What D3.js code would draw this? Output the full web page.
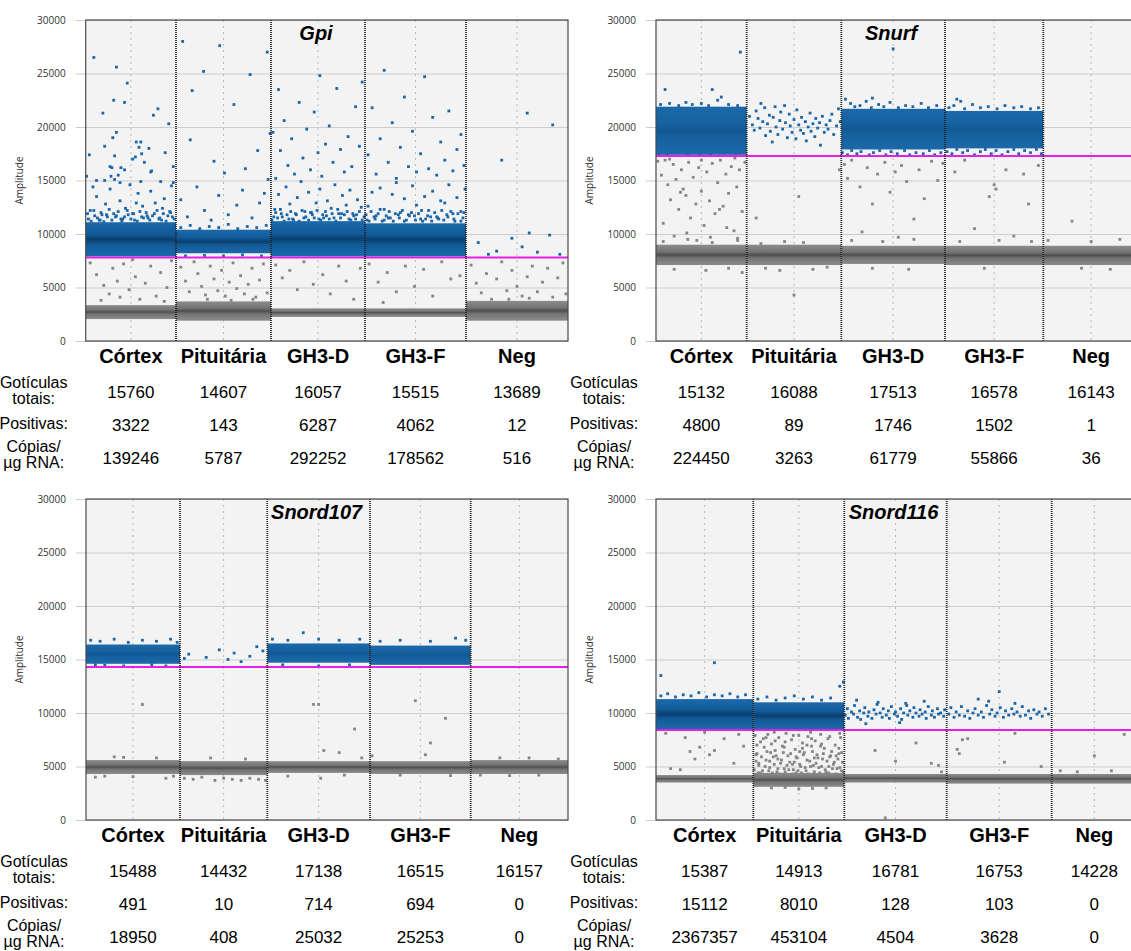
<!DOCTYPE html>
<html>
<head>
<meta charset="utf-8">
<title>ddPCR amplitude plots</title>
<script src="https://cdn.jsdelivr.net/npm/d3@7"></script>
<style>
  body { margin: 0; background: #fff; }
  text { font-family: "Liberation Sans", Arial, sans-serif; }
</style>
</head>
<body>
<script>
// ---- data ----
var genes = ["Gpi", "Snurf", "Snord107", "Snord116"];
var wells = ["Córtex", "Pituitária", "GH3-D", "GH3-F", "Neg"];
var yTicks = [0, 5000, 10000, 15000, 20000, 25000, 30000];
var thresholds = [7800, 17300, 14300, 8400];

var totais = [
  [15760, 14607, 16057, 15515, 13689],
  [15132, 16088, 17513, 16578, 16143],
  [15488, 14432, 17138, 16515, 16157],
  [15387, 14913, 16781, 16753, 14228]
];
var positivas = [
  [3322, 143, 6287, 4062, 12],
  [4800, 89, 1746, 1502, 1],
  [491, 10, 714, 694, 0],
  [15112, 8010, 128, 103, 0]
];
var copias = [
  [139246, 5787, 292252, 178562, 516],
  [224450, 3263, 61779, 55866, 36],
  [18950, 408, 25032, 25253, 0],
  [2367357, 453104, 4504, 3628, 0]
];

// dense droplet clusters per well: [low, high] amplitude
var posBands = [
  [[7900, 11100], [8200, 10400], [7900, 11200], [7900, 11000], null],
  [[17400, 21900], null, [17900, 21700], [18000, 21500], null],
  [[14600, 16400], null, [14700, 16500], [14500, 16300], null],
  [[8500, 11300], [8500, 11000], null, null, null]
];
var negBands = [
  [[2050, 3350], [1900, 3700], [2250, 3050], [2250, 3050], [1900, 3750]],
  [[7100, 9000], [7100, 9000], [7200, 8900], [7100, 8900], [7100, 8900]],
  [[4300, 5600], [4200, 5500], [4400, 5500], [4300, 5500], [4300, 5600]],
  [[3500, 4200], [3100, 4400], [3500, 4300], [3400, 4300], [3400, 4300]]
];

// scattered droplets per well: [position within well 0..1, amplitude]
var gpiRain = [
  [[.09,26500],[.34,25600],[.46,24100],[.31,22500],[.43,22300],[.19,21300],[.8,21700],[.75,21100],[.92,20300],[.34,19500],[.3,19000],[.21,18200],[.04,17400],[.32,17300],[.56,18600],[.61,18600],[.59,18100],[.7,18000],[.62,17500],[.55,17200],[.52,17000],[.65,16700],[.73,15900],[.72,15800],[.88,17600],[.27,16300],[.29,16200],[.39,16200],[.43,16000],[.01,15400],[.12,15000],[.21,15000],[.28,15400],[.32,15100],[.36,15500],[.38,14800],[.83,14900],[.97,16300],[.95,14500],
   [.05,12200],[.12,13500],[.18,11800],[.22,12800],[.27,14200],[.33,11600],[.38,13100],[.44,12400],[.49,14600],[.53,11900],[.58,13800],[.63,12600],[.68,11700],[.72,14000],[.77,12900],[.82,11500],[.87,13300],[.93,12100],[.97,14800],[.08,14400],[.41,11400],[.61,14900],[.85,12400],[.15,11300],[.56,12900],
   [.03,11400],[.1,11700],[.16,11300],[.24,11600],[.31,11900],[.39,11400],[.47,11800],[.54,11300],[.62,11600],[.69,11500],[.76,11900],[.84,11300],[.91,11700],[.98,11400],
   [.02,11900],[.06,11200],[.09,12200],[.13,11500],[.17,12000],[.2,11150],[.23,11800],[.26,12300],[.29,11300],[.34,11700],[.36,12100],[.4,11200],[.43,11600],[.46,12200],[.5,11400],[.52,11900],[.57,11200],[.6,12100],[.64,11500],[.67,12000],[.71,11300],[.74,11700],[.79,12200],[.81,11400],[.86,11900],[.89,11200],[.94,12000],[.96,11600],
   [.05,7300],[.12,6200],[.2,5200],[.26,4400],[.3,6800],[.35,5600],[.42,7200],[.48,4800],[.55,6000],[.6,3900],[.66,5400],[.72,7000],[.78,4200],[.83,6400],[.9,5000],[.95,7500],[.17,3800],[.52,7600],[.87,3700],[.38,4100]],
  [[.07,28000],[.17,23400],[.15,18800],[.29,25200],[.46,27600],[.51,15700],[.61,22100],[.73,16100],[.78,24900],[.96,27000],[.97,15100],[.99,19400],[.05,13200],[.12,11600],[.22,14400],[.3,12200],[.37,11300],[.45,13600],[.55,11800],[.64,12700],[.7,14100],[.8,11500],[.88,12900],[.93,13800],[.4,16800],[.86,17800],
   [.05,10600],[.15,10800],[.25,10500],[.35,10700],[.45,10600],[.55,10900],[.65,10500],[.75,10700],[.85,10600],[.95,10800],[.1,7950],[.3,8000],[.5,7950],[.7,8050],[.9,7950],
   [.05,6900],[.1,5600],[.14,4600],[.19,7400],[.23,6300],[.27,5100],[.31,4300],[.36,7000],[.4,5800],[.44,4700],[.48,6600],[.52,4200],[.56,5500],[.6,7300],[.64,4900],[.68,6100],[.72,4400],[.76,5300],[.8,6800],[.84,4100],[.88,5700],[.92,7200],[.96,4500],[.33,3900],[.58,3800],[.81,3900]],
  [[.02,19500],[.05,15200],[.1,17800],[.14,20600],[.18,16400],[.22,18900],[.25,15600],[.3,22300],[.34,17100],[.38,19800],[.42,16000],[.46,21400],[.5,17600],[.54,15400],[.58,18400],[.62,20100],[.66,16700],[.7,23600],[.74,17900],[.78,15800],[.82,19100],[.86,16300],[.9,21900],[.94,18200],[.97,24200],[.08,23500],[.52,24800],
   [.04,12300],[.08,13700],[.12,11600],[.16,14400],[.2,12800],[.24,11300],[.28,13400],[.32,14900],[.36,12100],[.4,13900],[.44,11800],[.48,12900],[.52,14200],[.56,11500],[.6,13100],[.64,12400],[.68,14600],[.72,11900],[.76,13600],[.8,12700],[.84,14100],[.88,11700],[.92,13200],[.96,12500],
   [.03,11600],[.11,11900],[.19,11400],[.27,11800],[.35,11500],[.43,12000],[.51,11400],[.59,11700],[.67,11500],[.75,11900],[.83,11400],[.91,11800],[.99,11600],
   [.01,11300],[.05,12000],[.07,11500],[.1,12300],[.14,11200],[.17,11800],[.21,12100],[.23,11400],[.26,11900],[.3,11200],[.33,12200],[.37,11600],[.4,11300],[.42,12000],[.46,11500],[.49,12200],[.53,11300],[.55,11800],[.58,12100],[.62,11400],[.65,11900],[.69,11200],[.71,12300],[.74,11500],[.78,11800],[.81,12100],[.85,11300],[.87,11900],[.9,11400],[.94,12100],[.97,11300],
   [.05,7100],[.12,5900],[.2,6600],[.28,4800],[.35,7400],[.45,5300],[.55,6200],[.63,4400],[.72,7000],[.8,5600],[.88,3900],[.95,6800]],
  [[.03,17400],[.07,21800],[.11,15600],[.15,18900],[.19,25300],[.23,16700],[.27,20400],[.31,15200],[.35,18100],[.39,22800],[.43,16300],[.47,19600],[.51,15800],[.55,17500],[.59,24700],[.63,16100],[.67,20900],[.71,15500],[.75,18600],[.79,16900],[.83,21500],[.87,15900],[.91,17900],[.95,19300],[.98,16400],
   [.03,12600],[.07,13900],[.11,11700],[.15,14300],[.19,12300],[.23,11500],[.27,13700],[.31,14800],[.35,12000],[.39,13300],[.43,11800],[.47,14500],[.51,12700],[.55,11400],[.59,13500],[.63,12200],[.67,14000],[.71,11600],[.75,13100],[.79,12900],[.83,14600],[.87,11900],[.91,13400],[.95,12100],[.99,14200],
   [.02,11300],[.09,11600],[.17,11200],[.25,11500],[.33,11800],[.41,11300],[.49,11700],[.57,11200],[.65,11600],[.73,11400],[.81,11800],[.89,11200],[.97,11500],
   [.01,11800],[.04,11200],[.06,12100],[.1,11400],[.13,11900],[.15,12300],[.19,11300],[.21,11700],[.24,12100],[.28,11200],[.3,11900],[.34,11500],[.37,12200],[.39,11200],[.44,11700],[.46,12000],[.5,11300],[.53,11900],[.56,12200],[.6,11400],[.62,11700],[.66,11200],[.69,12000],[.72,11500],[.76,12200],[.78,11300],[.82,11600],[.85,12100],[.88,11400],[.92,11900],[.95,11200],[.98,12000],
   [.04,7200],[.13,5500],[.22,6400],[.31,4600],[.4,7000],[.49,5100],[.58,6700],[.67,4200],[.76,7400],[.85,5800],[.94,6100],[.18,3600]],
  [[.12,9200],[.3,8400],[.22,8100],[.45,9600],[.55,8800],[.62,10100],[.7,8300],[.82,9900],[.92,8100],[.35,16900],[.6,21300],[.85,20200],
   [.05,7100],[.1,5400],[.15,4500],[.2,6300],[.25,3900],[.3,5800],[.35,7400],[.4,4700],[.45,6600],[.5,5100],[.55,4200],[.6,6000],[.65,7000],[.7,4600],[.75,5500],[.8,6800],[.85,4100],[.9,5900],[.95,7300],[.98,4400],[.42,3900],[.62,4000]]
];

var snurfRain = [
  [[.1,23500],[.62,23500],[.72,22800],[.33,22300],[.93,27000],[.68,22500],
   [.05,22100],[.15,22200],[.25,22000],[.4,22100],[.5,22200],[.58,22000],[.8,22100],[.9,22000],
   [.03,17500],[.12,17400],[.22,17600],[.35,17400],[.48,17500],[.6,17400],[.75,17600],[.88,17400],
   [.02,16800],[.06,15500],[.1,16900],[.13,14600],[.16,13200],[.19,16500],[.22,15100],[.25,12300],[.28,16000],[.3,14200],[.33,13600],[.36,16700],[.38,11500],[.41,15300],[.44,12800],[.47,16200],[.5,14000],[.53,10800],[.56,15800],[.59,13100],[.62,16600],[.65,11900],[.68,14800],[.71,16900],[.74,12600],[.77,15600],[.8,13800],[.83,16300],[.86,10300],[.89,14400],[.92,16000],[.95,12100],[.98,16700],[.08,11000],[.2,9800],[.34,10100],[.45,9400],[.6,9700],[.78,10600],[.9,9600],[.15,17000],[.5,16900],[.87,17100],[.27,13900],[.7,12300],
   [.08,9300],[.35,9500],[.62,9200],[.9,9400],[.2,6700],[.55,6600],[.8,6800],[.95,6400]],
  [[.03,21000],[.06,20200],[.08,19700],[.1,21500],[.12,20800],[.14,19900],[.15,22200],[.17,20500],[.19,21800],[.2,19200],[.22,20300],[.24,21100],[.25,19600],[.27,18600],[.28,20900],[.3,21900],[.31,20000],[.33,19300],[.35,20600],[.36,21400],[.38,19800],[.4,22000],[.41,20400],[.43,19000],[.45,21200],[.46,20100],[.48,19500],[.5,20700],[.52,18900],[.53,21600],[.55,20200],[.57,19700],[.58,20900],[.6,19400],[.62,20500],[.63,18700],[.65,20000],[.67,21300],[.68,19600],[.7,20300],[.72,19100],[.73,20800],[.75,19900],[.77,20400],[.78,18300],[.8,21000],[.82,19500],[.84,20200],[.86,19800],[.88,20600],[.9,21200],[.92,19300],[.95,20100],[.97,21700],[.99,20500],
   [.4,9300],[.1,11500],[.55,13500],[.98,16000],[.5,4300],[.2,6800],[.7,6700],[.35,6600],[.85,6900],[.6,9200],[.15,9100]],
  [[.5,27300],[.3,22700],
   [.04,22600],[.09,22200],[.13,21900],[.18,22000],[.24,22400],[.29,21800],[.36,22100],[.41,21900],[.47,22300],[.55,21800],[.62,22000],[.69,21900],[.77,22200],[.84,21800],[.92,22000],
   [.01,17600],[.06,17400],[.1,17800],[.15,17500],[.19,17700],[.27,17400],[.31,17600],[.37,17800],[.43,17400],[.48,17700],[.54,17500],[.61,17800],[.66,17400],[.72,17600],[.79,17500],[.85,17800],[.9,17400],[.96,17600],
   [.03,16500],[.06,15200],[.1,16900],[.18,14400],[.25,16200],[.3,12800],[.35,15600],[.42,16700],[.47,13900],[.52,15800],[.58,16400],[.63,14900],[.7,11400],[.75,16000],[.8,13300],[.87,16800],[.93,15000],[.98,16600],[.2,10200],[.55,9700],
   [.1,9400],[.4,9300],[.7,9500],[.3,6800],[.65,6700]],
  [[.12,22600],[.16,22400],
   [.04,21800],[.09,22000],[.2,21700],[.28,22100],[.36,21800],[.44,21900],[.53,21700],[.61,22000],[.7,21800],[.78,21900],[.87,21700],[.95,21800],
   [.02,17700],[.07,17500],[.12,17900],[.18,17600],[.23,17800],[.3,17400],[.36,17700],[.41,17900],[.47,17500],[.52,17800],[.58,17400],[.64,17700],[.7,17900],[.75,17500],[.81,17800],[.87,17600],[.93,17900],[.98,17500],
   [.1,15800],[.2,16900],[.45,13500],[.5,14600],[.52,14200],[.62,16000],[.8,15600],[.85,12800],[.95,16400],[.3,10500],[.7,9800],[.15,9300],[.55,9400],[.88,9300],[.4,6800]],
  [[.3,11200],[.05,9400],[.5,9300],[.8,9500],[.4,6800],[.7,6700]]
];

var snord107Rain = [
  [[.05,16800],[.15,16700],[.3,16900],[.45,16600],[.6,16800],[.75,16700],[.9,16900],[.97,16600],[.1,14500],[.4,14400],[.7,14500],[.2,14450],[.85,14400],
   [.6,10800],[.3,5900],[.75,5800],[.1,4000],[.2,4100],[.5,4050],[.85,3900],[.93,4100],[.4,5850]],
  [[.1,15500],[.3,15200],[.45,15900],[.55,15000],[.62,15600],[.8,15300],[.95,15800],[.05,15100],[.7,14800],[.88,16200],
   [.05,3900],[.15,3800],[.25,4000],[.4,3700],[.5,3900],[.6,3800],[.7,3700],[.8,3900],[.9,3800],[.98,3700],[.35,5800],[.75,5700]],
  [[.05,16900],[.2,16800],[.35,17500],[.5,16900],[.7,16800],[.9,16900],[.15,14500],[.5,14400],[.8,14500],
   [.45,10800],[.5,10800],[.55,6500],[.7,6300],[.85,8500],[.92,5800],[.52,3900],[.2,4100],[.75,4200]],
  [[.1,16700],[.3,16800],[.6,16700],[.85,17000],[.95,16800],
   [.45,11150],[.6,7200],[.55,6100],[.75,9500],[.02,6000],[.3,4200],[.8,4150]],
  [[.1,4200],[.4,4150],[.7,4200],[.3,5800],[.6,5800],[.9,5700]]
];

var snord116Rain = [
  [[.05,11600],[.12,11800],[.2,11500],[.28,11700],[.36,11600],[.44,11900],[.52,11500],[.6,11700],[.68,11600],[.76,11800],[.84,11500],[.92,11700],[.6,14700],[.05,13500],
   [.3,7700],[.35,6400],[.4,5700],[.45,6800],[.55,6100],[.6,6500],[.7,7600],[.8,5300],[.9,6900],[.15,4800],[.25,4700],[.1,8100],[.5,8200],[.85,8000]],
  [[.05,11300],[.15,11500],[.25,11200],[.35,11400],[.45,11600],[.55,11300],[.65,11500],[.75,11200],[.85,11400],[.95,12500],[.99,12900],
   [.02,7900],[.04,6200],[.06,5100],[.08,7300],[.1,4600],[.12,6800],[.14,5600],[.16,8000],[.18,4900],[.2,7100],[.22,5900],[.24,6500],[.26,4500],[.28,7700],[.3,5300],[.32,6900],[.34,4800],[.36,8100],[.38,6000],[.4,5400],[.42,7500],[.44,4700],[.46,6600],[.48,5800],[.5,7900],[.52,5000],[.54,7200],[.56,6300],[.58,4600],[.6,7800],[.62,5500],[.64,6900],[.66,5100],[.68,7400],[.7,6100],[.72,4900],[.74,8000],[.76,5700],[.78,6700],[.8,4500],[.82,7600],[.84,5900],[.86,6400],[.88,5200],[.9,7000],[.92,4800],[.94,6200],[.96,7700],[.98,5400],[.03,5500],[.11,7600],[.19,6300],[.27,5700],[.35,7300],[.43,5200],[.51,6400],[.59,7000],[.67,5800],[.75,7100],[.83,5000],[.91,6000],[.97,4600],[.07,4400],[.23,8200],[.47,4400],[.63,8200],[.79,4300],[.95,8100],
   [.01,4700],[.03,6100],[.05,4400],[.06,5300],[.09,5900],[.1,4300],[.13,5000],[.15,6400],[.17,4600],[.18,5500],[.21,4400],[.23,5200],[.25,6000],[.27,4800],[.29,4300],[.31,5600],[.33,6300],[.35,4500],[.37,5100],[.39,4700],[.41,6200],[.43,4300],[.45,5400],[.47,5900],[.49,4600],[.51,5200],[.53,4400],[.55,6100],[.57,4900],[.59,5600],[.61,4300],[.63,5000],[.65,6400],[.67,4500],[.69,5300],[.71,5800],[.73,4400],[.75,5000],[.77,6200],[.79,4700],[.81,5500],[.83,4400],[.85,6000],[.87,4800],[.89,5400],[.91,4300],[.93,5700],[.95,4900],[.97,6300],[.99,4500],
   [.04,7000],[.14,7700],[.24,7400],[.34,6800],[.44,7900],[.54,6700],[.64,7600],[.74,6900],[.84,7800],[.94,6700],
   [.2,3000],[.5,2900],[.8,3000],[.35,3050],[.65,2950]],
  [[.01,9800],[.03,10400],[.04,9500],[.07,10100],[.09,9900],[.1,10700],[.13,9600],[.15,10200],[.16,9400],[.19,10000],[.2,10500],[.23,9700],[.24,10100],[.27,9500],[.29,10300],[.31,9900],[.32,10800],[.35,10000],[.37,9600],[.38,10400],[.41,9800],[.43,10200],[.44,9500],[.46,10600],[.49,9900],[.5,10100],[.52,9700],[.55,10400],[.56,9400],[.58,10000],[.61,10700],[.62,9800],[.64,10200],[.67,9600],[.68,10500],[.7,10000],[.73,9700],[.74,10300],[.76,9900],[.79,10100],[.8,9500],[.82,10600],[.85,9800],[.86,10200],[.88,9600],[.91,10400],[.92,9900],[.94,10000],[.97,9700],[.98,10300],[.12,11200],[.33,11000],[.6,10900],[.21,9000],[.54,9100],[.78,11100],
   [.3,6500],[.5,5500],[.7,7200],[.85,5300],[.92,5100],[.95,4500],[.4,200]],
  [[.02,9900],[.04,10500],[.07,9600],[.09,10100],[.12,9800],[.14,10600],[.17,9700],[.2,10200],[.22,9500],[.25,10000],[.27,10400],[.3,9800],[.33,10100],[.35,9600],[.38,10700],[.41,9900],[.43,10300],[.46,9700],[.48,10000],[.51,10500],[.54,9600],[.56,10200],[.59,9800],[.62,10400],[.64,9900],[.67,10100],[.7,9700],[.72,10600],[.75,9800],[.78,10200],[.8,9500],[.83,10300],[.86,9900],[.88,10100],[.91,9700],[.94,10400],[.97,9900],[.5,12000],[.3,11300],[.4,11100],[.65,10900],
   [.1,6600],[.12,6200],[.15,7500],[.2,7600],[.55,5400],[.9,5000],[.65,8100]],
  [[.5,6000],[.85,8000],[.1,4600],[.3,4500],[.7,4600]]
];
var rain = [gpiRain, snurfRain, snord107Rain, snord116Rain];

// ---- layout ----
var W = 1131, H = 951;
var panelLeft = [85.7, 656, 86, 656];
var panelTop = [20, 20, 499, 499];
var plotH = 321;
var colEdges = [
  [0, 90.3, 185.3, 279.3, 380.3, 482.3],
  [0, 90.7, 185.3, 289, 387.3, 483],
  [0, 94, 181.3, 284, 384.7, 482],
  [0, 97.3, 188.3, 290.7, 395.7, 481]
];
var blueFill = ["url(#gBlue)", "url(#gBluePlain)", "url(#gBluePlain)", "url(#gBlue)"];
var blue = "#1a66a8", grey = "#858585", magenta = "#e61ee6";

var svg = d3.select("body").append("svg").attr("width", W).attr("height", H);
var defs = svg.append("defs");

function gradient(id, edge, mid, core) {
  var lg = defs.append("linearGradient").attr("id", id)
    .attr("x1", 0).attr("y1", 0).attr("x2", 0).attr("y2", 1);
  [[0, edge], [0.35, mid], [0.5, core], [0.65, mid], [1, edge]].forEach(function (s) {
    lg.append("stop").attr("offset", s[0]).attr("stop-color", s[1]);
  });
}
gradient("gBlue", "#1c69aa", "#115a98", "#0a3f6c");
gradient("gBluePlain", "#1c69aa", "#16619f", "#115894");
gradient("gGrey", "#8c8c8c", "#737373", "#4e4e4e");

genes.forEach(function (gene, gi) {
  var L = panelLeft[gi], T = panelTop[gi], B = T + plotH;
  var edges = colEdges[gi].map(function (e) { return L + e; });
  var R = edges[5];
  var x = d3.scaleLinear().domain([0, 1, 2, 3, 4, 5]).range(edges);
  var y = d3.scaleLinear().domain([0, 30000]).range([B, T]);
  var g = svg.append("g");

  defs.append("clipPath").attr("id", "clip" + gi).append("rect")
    .attr("x", L).attr("y", T).attr("width", R - L).attr("height", plotH);

  g.append("rect").attr("x", L).attr("y", T).attr("width", R - L).attr("height", plotH)
    .attr("fill", "#f3f3f3");

  // y axis with gridlines running through the plot
  var ax = g.append("g").attr("transform", "translate(" + (L - 10) + ",0)")
    .call(d3.axisLeft(y).tickValues(yTicks).tickSizeInner(-(R - L + 10)).tickSizeOuter(0)
      .tickPadding(10).tickFormat(d3.format("d")));
  ax.select(".domain").remove();
  ax.selectAll("line").attr("stroke", "#cdcdcd");
  ax.selectAll("text").attr("fill", "#333")
    .style("font-family", "'Open Sans', sans-serif").style("font-size", "10px");

  g.append("text")
    .attr("transform", "translate(" + (L - 62.7) + "," + ((T + B) / 2) + ") rotate(-90)")
    .attr("text-anchor", "middle").style("font-family", "'Open Sans', sans-serif")
    .style("font-size", "10px").attr("fill", "#333").text("Amplitude");

  var p = g.append("g").attr("clip-path", "url(#clip" + gi + ")");

  // light dotted centre lines of each well
  p.selectAll("line.mid").data(wells).enter().append("line")
    .attr("x1", function (d, i) { return x(i + 0.5); })
    .attr("x2", function (d, i) { return x(i + 0.5); })
    .attr("y1", T).attr("y2", B)
    .attr("stroke", "#b8b8b8").attr("stroke-dasharray", "2,4");

  // dense clusters
  function bands(arr, fill) {
    arr.forEach(function (b, i) {
      if (!b) return;
      p.append("rect").attr("x", x(i)).attr("width", x(i + 1) - x(i))
        .attr("y", y(b[1])).attr("height", y(b[0]) - y(b[1]))
        .attr("fill", fill);
    });
  }
  bands(negBands[gi], "url(#gGrey)");
  bands(posBands[gi], blueFill[gi]);

  // scattered droplets
  rain[gi].forEach(function (list, i) {
    p.selectAll(null).data(list).enter().append("rect")
      .attr("x", function (d) { return x(i + d[0]) - 1.4; })
      .attr("y", function (d) { return y(d[1]) - 1.4; })
      .attr("width", 2.8).attr("height", 2.8)
      .attr("fill", function (d) { return d[1] > thresholds[gi] ? blue : grey; });
  });

  // threshold
  p.append("line").attr("x1", L).attr("x2", R)
    .attr("y1", y(thresholds[gi])).attr("y2", y(thresholds[gi]))
    .attr("stroke", magenta).attr("stroke-width", 2);

  // well separators
  p.selectAll("line.sep").data([1, 2, 3, 4]).enter().append("line")
    .attr("x1", function (d) { return x(d); }).attr("x2", function (d) { return x(d); })
    .attr("y1", T).attr("y2", B)
    .attr("stroke", "#222").attr("stroke-width", 1.8).attr("stroke-dasharray", "1,1");

  g.append("rect").attr("x", L).attr("y", T).attr("width", R - L).attr("height", plotH)
    .attr("fill", "none").attr("stroke", "#4a4a4a").attr("stroke-width", 1.2);

  // gene title on a small backing box
  var titleBox = g.append("rect").attr("fill", "#f3f3f3");
  var title = g.append("text").attr("x", x(2.5) - 2).attr("y", T + 20)
    .attr("text-anchor", "middle").style("font-size", "20px")
    .style("font-weight", "bold").style("font-style", "italic").text(gene);
  var bb = title.node().getBBox();
  titleBox.attr("x", bb.x - 3).attr("y", bb.y).attr("width", bb.width + 6).attr("height", bb.height);

  // well names
  g.selectAll("text.well").data(wells).enter().append("text")
    .attr("x", function (d, i) { return x(i + 0.5); }).attr("y", B + 22)
    .attr("text-anchor", "middle").style("font-size", "20px").style("font-weight", "bold")
    .text(function (d) { return d; });

  // table
  var lx = L - 52;
  var rowLabels = [["Gotículas", B + 47], ["totais:", B + 63], ["Positivas:", B + 88],
                   ["Cópias/", B + 111], ["µg RNA:", B + 127]];
  rowLabels.forEach(function (r) {
    g.append("text").attr("x", lx).attr("y", r[1]).attr("text-anchor", "middle")
      .style("font-size", "16px").text(r[0]);
  });
  [[totais, B + 57], [positivas, B + 90], [copias, B + 123]].forEach(function (row) {
    g.selectAll(null).data(row[0][gi]).enter().append("text")
      .attr("x", function (d, i) { return x(i + 0.5); }).attr("y", row[1])
      .attr("text-anchor", "middle").style("font-size", "17px")
      .text(function (d) { return d; });
  });
});
</script>
</body>
</html>
